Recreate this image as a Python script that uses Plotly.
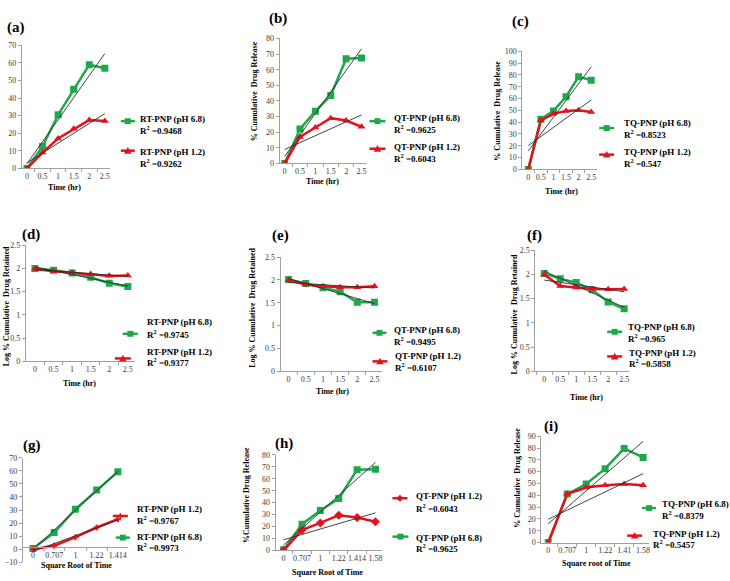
import numpy as np
import plotly.graph_objects as go

W, H = 730, 581

# ---------------- data ----------------
time_labels = ["0", "0.5", "1", "1.5", "2", "2.5"]
sqrt_labels_g = ["0", "0.707", "1", "1.22", "1.414"]
sqrt_labels_h = ["0", "0.707", "1", "1.22", "1.414", "1.58"]
sqrt_labels_i = ["0", "0.707", "1", "1.22", "1.41", "1.58"]

# (a)-(c) zero order: % cumulative drug release vs time
rt_rel_ph68 = [0, 12.5, 30.5, 45, 59, 57]
rt_rel_ph12 = [0, 9, 17, 22.5, 27.5, 27]
qt_rel_ph68 = [0, 22, 33.5, 43.5, 67, 67.5]
qt_rel_ph12 = [0, 17, 23, 29, 27.5, 23.5]
tq_rel_ph68 = [0, 42.5, 49.5, 61.5, 78.5, 75.5]
tq_rel_ph12 = [0, 41.5, 47, 49.5, 50, 48.5]

# (d)-(f) first order: log % cumulative drug retained vs time
rt_log_ph68 = [2.00, 1.96, 1.90, 1.81, 1.68, 1.61]
rt_log_ph12 = [1.99, 1.94, 1.91, 1.88, 1.84, 1.85]
qt_log_ph68 = [2.01, 1.92, 1.83, 1.74, 1.51, 1.51]
qt_log_ph12 = [1.99, 1.90, 1.86, 1.84, 1.84, 1.86]
tq_log_ph68 = [2.02, 1.91, 1.83, 1.68, 1.43, 1.29]
tq_log_ph12 = [1.99, 1.76, 1.73, 1.70, 1.69, 1.70]

# (g)-(i) Higuchi: % cumulative drug release vs square root of time
rt_hig_ph68 = [0.5, 12.8, 30.7, 45.3, 59.3]
rt_hig_ph12 = [0, 2.6, 9.2, 16.6, 23]
qt_hig_ph68 = [0.5, 22, 33.5, 43.5, 67.5, 68]
qt_hig_ph12 = [0, 17, 23, 29.5, 27.5, 24]
tq_hig_ph68 = [0, 41, 49.5, 62.5, 79.5, 72]
tq_hig_ph12 = [0, 41, 46.5, 48.5, 49.5, 48.5]

series_names = ["RT-PNP (pH 6.8)", "RT-PNP (pH 1.2)", "QT-PNP (pH 6.8)", "QT-PNP (pH 1.2)",
                "TQ-PNP (pH 6.8)", "TQ-PNP (pH 1.2)"]
r2_a = ["0.9468", "0.9262"]
r2_b = ["0.9625", "0.6043"]
r2_c = ["0.8523", "0.547"]
r2_d = ["0.9745", "0.9377"]
r2_e = ["0.9495", "0.6107"]
r2_f = ["0.965", "0.5858"]
r2_g = ["0.9973", "0.9767"]
r2_h = ["0.9625", "0.6043"]
r2_i = ["0.8379", "0.5457"]

# ---------------- styling / layout ----------------
GREEN = "#1fa84a"
RED = "#e3121c"
TREND = "#2e2e2e"
AX = "#a0a0a0"
SERIF = "Liberation Serif"
TICKFONT = dict(family=SERIF, size=8, color="#3a3a3a")
LEGSIZE = 9

REL = "% Cumulative  Drug Release"
LOGT = "Log % Cumulative  Drug Retained"

# positions in pixels: xpx=(axis left, first category, last category, axis end), ypx=(top tick, bottom tick)
panels = [
    dict(tag="(a)", tagpos=(16, 24), labels=time_labels, g=rt_rel_ph68, r=rt_rel_ph12, rsym="triangle-up",
         xpx=(22, 27, 105, 110), ypx=(42, 167), yr=(0, 70), dt=10, xat=None,
         xtitle=("Time (hr)", 65, 186), ytitle=None,
         leg=[("g", 0, r2_a[0], 121, 135, 119, 138, 117, 128),
              ("r", 1, r2_a[1], 121, 135, 149, 138, 150, 161)]),
    dict(tag="(b)", tagpos=(278, 15), labels=time_labels, g=qt_rel_ph68, r=qt_rel_ph12, rsym="triangle-up",
         xpx=(280, 285, 362, 368), ypx=(35, 162), yr=(0, 80), dt=10, xat=None,
         xtitle=("Time (hr)", 323, 180), ytitle=(REL, 255, 89),
         leg=[("g", 2, r2_b[0], 370, 386, 119, 393, 116, 127),
              ("r", 3, r2_b[1], 370, 386, 147, 393, 145, 156)]),
    dict(tag="(c)", tagpos=(521, 18), labels=time_labels, g=tq_rel_ph68, r=tq_rel_ph12, rsym="triangle-up",
         xpx=(523, 529, 592, 598), ypx=(48, 168), yr=(0, 100), dt=10, xat=None,
         xtitle=("Time (hr)", 562, 190), ytitle=(REL, 498, 108),
         leg=[("g", 4, r2_c[0], 600, 615, 126, 623, 121, 132),
              ("r", 5, r2_c[1], 600, 615, 153, 623, 150, 161)]),
    dict(tag="(d)", tagpos=(31, 234), labels=time_labels, g=rt_log_ph68, r=rt_log_ph12, rsym="triangle-up",
         xpx=(26, 35, 128, 135), ypx=(245, 363), yr=(0, 2.5), dt=0.5, xat=None,
         xtitle=("Time (hr)", 80, 385), ytitle=(LOGT, 6, 307),
         leg=[("g", 0, r2_d[0], 123, 138, 335, 145, 323, 335),
              ("r", 1, r2_d[1], 115, 131, 360, 145, 353, 364)]),
    dict(tag="(e)", tagpos=(281, 235), labels=time_labels, g=qt_log_ph68, r=qt_log_ph12, rsym="triangle-up",
         xpx=(281, 289, 375, 383), ypx=(257, 373), yr=(0, 2.5), dt=0.5, xat=None,
         xtitle=("Time (hr)", 333, 394), ytitle=(LOGT, 253, 309),
         leg=[("g", 2, r2_e[0], 373, 387, 334, 393, 331, 342),
              ("r", 3, r2_e[1], 373, 388, 363, 394, 358, 369)]),
    dict(tag="(f)", tagpos=(535, 235), labels=time_labels, g=tq_log_ph68, r=tq_log_ph12, rsym="triangle-up",
         xpx=(536, 545, 625, 630), ypx=(250, 373), yr=(0, 2.5), dt=0.5, xat=None,
         xtitle=("Time (hr)", 587, 400), ytitle=(LOGT, 515, 315),
         leg=[("g", 4, r2_f[0], 608, 623, 333, 627, 328, 339),
              ("r", 5, r2_f[1], 608, 623, 358, 628, 354, 365)]),
    dict(tag="(g)", tagpos=(32, 448), labels=sqrt_labels_g, g=rt_hig_ph68, r=rt_hig_ph12, rsym="cross",
         xpx=(23, 33, 118, 128), ypx=(461, 567), yr=(-10, 70), dt=10, xat=552,
         xtitle=("Square Root of Time", 77, 570), ytitle=None,
         leg=[("r", 1, r2_g[1], 113, 128, 520, 135, 513, 524),
              ("g", 0, r2_g[0], 116, 130, 542, 135, 541, 552)]),
    dict(tag="(h)", tagpos=(284, 446), labels=sqrt_labels_h, g=qt_hig_ph68, r=qt_hig_ph12, rsym="diamond",
         xpx=(276, 284, 376, 383), ypx=(458, 555), yr=(0, 80), dt=10, xat=None,
         xtitle=("Square Root of Time", 328, 577), ytitle=("%Cumulative Drug Release", 247, 499),
         leg=[("r", 3, r2_h[1], 393, 408, 502, 415, 500, 512),
              ("g", 2, r2_h[0], 393, 409, 541, 415, 542, 553)]),
    dict(tag="(i)", tagpos=(552, 429), labels=sqrt_labels_i, g=tq_hig_ph68, r=tq_hig_ph12, rsym="triangle-up",
         xpx=(542, 549, 644, 650), ypx=(439, 547), yr=(0, 90), dt=10, xat=None,
         xtitle=("Square root of Time", 597, 568), ytitle=(REL, 518, 481),
         leg=[("g", 4, r2_i[0], 643, 657, 512, 661, 508, 519),
              ("r", 5, r2_i[1], 628, 643, 540, 652, 538, 549)]),
]


def fx(p):
    return p / W


def fy(p):
    return 1 - p / H


fig = go.Figure()
layout = {}
shapes = []
annotations = []

for i, p in enumerate(panels, start=1):
    sfx = "" if i == 1 else str(i)
    xa, ya = "x" + sfx, "y" + sfx
    labels = p["labels"]
    n = len(labels)
    idx = list(range(n))
    left, first, last, end = p["xpx"]
    ppu = (last - first) / (n - 1)
    xr = [-(first - left) / ppu, (n - 1) + (end - last) / ppu]
    top, bottom = p["ypx"]

    # data series
    fig.add_trace(go.Scatter(x=idx, y=p["g"], xaxis=xa, yaxis=ya, mode="lines+markers",
                             line=dict(color=GREEN, width=2.5),
                             marker=dict(symbol="square", size=7, color=GREEN),
                             showlegend=False, hoverinfo="skip"))
    fig.add_trace(go.Scatter(x=idx, y=p["r"], xaxis=xa, yaxis=ya, mode="lines+markers",
                             line=dict(color=RED, width=2.5),
                             marker=dict(symbol=p["rsym"], size=7 if p["rsym"] != "cross" else 5, color=RED),
                             showlegend=False, hoverinfo="skip"))
    # linear trendlines (least squares over category index)
    for s in (p["g"], p["r"]):
        slope, icpt = np.polyfit(idx, s, 1)
        fit = [slope * k + icpt for k in idx]
        fig.add_trace(go.Scatter(x=idx, y=fit, xaxis=xa, yaxis=ya, mode="lines",
                                 line=dict(color=TREND, width=0.9),
                                 showlegend=False, hoverinfo="skip"))

    xdict = dict(domain=[fx(left), fx(end)], range=xr, tickmode="array", tickvals=idx, ticktext=labels,
                 showline=True, linecolor=AX, linewidth=1, ticks="", showgrid=False, zeroline=False,
                 tickfont=TICKFONT, fixedrange=True,
                 minor=dict(ticks="outside", tickmode="linear", tick0=-0.5, dtick=1, ticklen=3,
                            tickcolor=AX, showgrid=False))
    if p["xat"] is None:
        xdict["anchor"] = ya
    else:
        xdict["anchor"] = "free"
        xdict["position"] = fy(p["xat"])
    layout["xaxis" + sfx] = xdict
    layout["yaxis" + sfx] = dict(domain=[fy(bottom), fy(top)], range=list(p["yr"]), tick0=p["yr"][0],
                                 dtick=p["dt"], anchor=xa, showline=True, linecolor=AX, linewidth=1,
                                 ticks="outside", ticklen=3, tickcolor=AX, showgrid=False,
                                 zeroline=False, tickfont=TICKFONT, fixedrange=True)

    # panel tag
    annotations.append(dict(text="<b>" + p["tag"] + "</b>", x=fx(p["tagpos"][0]), y=fy(p["tagpos"][1]),
                            xref="paper", yref="paper", xanchor="center", yanchor="middle",
                            showarrow=False, font=dict(family=SERIF, size=15, color="black")))
    # axis titles
    t, tx, ty = p["xtitle"]
    annotations.append(dict(text="<b>" + t + "</b>", x=fx(tx), y=fy(ty), xref="paper", yref="paper",
                            xanchor="center", yanchor="middle", showarrow=False,
                            font=dict(family=SERIF, size=8, color="black")))
    if p["ytitle"] is not None:
        t, tx, ty = p["ytitle"]
        annotations.append(dict(text="<b>" + t + "</b>", x=fx(tx), y=fy(ty), xref="paper", yref="paper",
                                xanchor="center", yanchor="middle", showarrow=False, textangle=-90,
                                font=dict(family=SERIF, size=8, color="black")))

    # legend entries (sample line + marker + two text lines)
    for col, name_i, r2, sx0, sx1, sy, tx, ty1, ty2 in p["leg"]:
        color = GREEN if col == "g" else RED
        shapes.append(dict(type="line", xref="paper", yref="paper", x0=fx(sx0), x1=fx(sx1),
                           y0=fy(sy), y1=fy(sy), line=dict(color=color, width=2.5)))
        cx = (sx0 + sx1) / 2
        if col == "g":
            shapes.append(dict(type="rect", xref="paper", yref="paper", x0=fx(cx - 3), x1=fx(cx + 3),
                               y0=fy(sy + 3), y1=fy(sy - 3), line=dict(width=0), fillcolor=color))
        elif p["rsym"] == "diamond":
            path = "M {},{} L {},{} L {},{} L {},{} Z".format(
                fx(cx - 3.5), fy(sy), fx(cx), fy(sy - 3.5), fx(cx + 3.5), fy(sy), fx(cx), fy(sy + 3.5))
            shapes.append(dict(type="path", xref="paper", yref="paper", path=path,
                               line=dict(width=0), fillcolor=color))
        elif p["rsym"] == "cross":
            shapes.append(dict(type="line", xref="paper", yref="paper", x0=fx(cx), x1=fx(cx),
                               y0=fy(sy - 3), y1=fy(sy + 3), line=dict(color=color, width=1.5)))
        else:
            path = "M {},{} L {},{} L {},{} Z".format(
                fx(cx - 3.8), fy(sy + 3), fx(cx + 3.8), fy(sy + 3), fx(cx), fy(sy - 3.8))
            shapes.append(dict(type="path", xref="paper", yref="paper", path=path,
                               line=dict(width=0), fillcolor=color))
        annotations.append(dict(text="<b>" + series_names[name_i] + "</b>", x=fx(tx), y=fy(ty1),
                                xref="paper", yref="paper", xanchor="left", yanchor="middle",
                                showarrow=False, font=dict(family=SERIF, size=LEGSIZE, color="black")))
        annotations.append(dict(text="<b>R<sup>2</sup> =" + r2 + "</b>", x=fx(tx), y=fy(ty2),
                                xref="paper", yref="paper", xanchor="left", yanchor="middle",
                                showarrow=False, font=dict(family=SERIF, size=LEGSIZE, color="black")))

layout.update(dict(width=W, height=H, margin=dict(l=0, r=0, t=0, b=0), paper_bgcolor="white",
                   plot_bgcolor="white", showlegend=False, shapes=shapes, annotations=annotations))
fig.update_layout(**layout)
fig.write_html("out.html")
